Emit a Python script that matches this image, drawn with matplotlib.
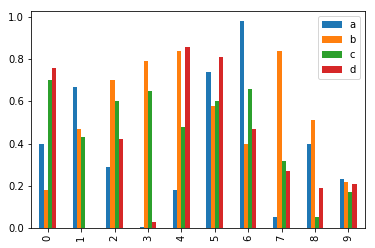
import numpy as np
import pandas as pd
import matplotlib
matplotlib.use('Agg')
import matplotlib.pyplot as plt

a = [0.40, 0.67, 0.29, 0.005, 0.18, 0.74, 0.98, 0.05, 0.40, 0.23]
b = [0.18, 0.47, 0.70, 0.79, 0.84, 0.58, 0.40, 0.84, 0.51, 0.22]
c = [0.70, 0.43, 0.60, 0.65, 0.48, 0.60, 0.66, 0.32, 0.05, 0.17]
d = [0.76, 0.0, 0.42, 0.03, 0.86, 0.81, 0.47, 0.27, 0.19, 0.21]

df = pd.DataFrame({'a': a, 'b': b, 'c': c, 'd': d})

plt.rcParams['font.size'] = 10
fig = plt.figure(figsize=(375/72, 248/72), dpi=72)
ax = fig.add_axes([31/375, 1 - 228/248, (365-31)/375, (228-11)/248])
df.plot.bar(ax=ax)
fig.savefig('out.png', dpi=72)
